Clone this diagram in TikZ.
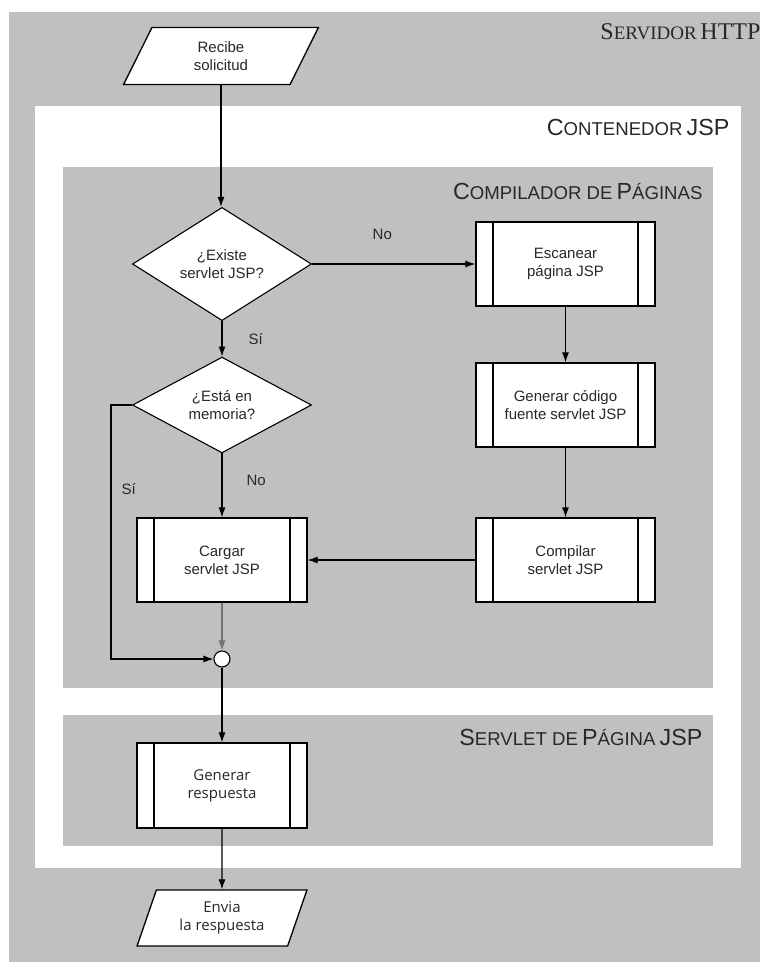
\documentclass[tikz,border=0pt]{standalone}
\usepackage{fontspec}
\setmainfont{Liberation Sans}
\newfontfamily\servidorfont{Liberation Serif}
\newfontfamily\respfont{Open Sans}
\usetikzlibrary{shapes.geometric,arrows.meta}

\definecolor{fondo}{RGB}{192,192,192}
\definecolor{tinta}{RGB}{40,40,40}

% versalitas falsas para los titulos
\newcommand{\mayor}[1]{{\fontsize{23.3}{24}\selectfont #1}}
\newcommand{\menor}[1]{{\fontsize{18.6}{19}\selectfont #1}}

\begin{document}
\begin{tikzpicture}[x=1pt,y=-1pt,line width=1.1pt,
  every node/.style={font=\fontsize{15}{18}\selectfont, align=center, text=tinta},
  proceso/.style={draw, fill=white, line width=1.3pt, minimum width=170pt, minimum height=84pt, inner sep=0pt,
    path picture={
      \draw[line width=1.3pt] ([xshift=17pt]path picture bounding box.north west) -- ([xshift=17pt]path picture bounding box.south west);
      \draw[line width=1.3pt] ([xshift=-17pt]path picture bounding box.north east) -- ([xshift=-17pt]path picture bounding box.south east);}},
  decision/.style={diamond, draw, fill=white, minimum width=179pt, minimum height=84pt, inner sep=0pt},
  datos/.style={trapezium, trapezium left angle=69, trapezium right angle=111, trapezium stretches=true,
    draw, fill=white, line width=1.3pt, minimum height=57pt, inner sep=0pt},
  union/.style={circle, draw, fill=white, minimum size=16pt, inner sep=0pt},
  etiqueta/.style={inner sep=0pt},
  titulo/.style={anchor=base east, inner sep=0pt},
  flecha/.style={-{Latex[length=10pt,width=7pt]}}]

\useasboundingbox (0,0) rectangle (760,962);

% zonas
\fill[fondo] (9,12) rectangle (760,962);
\fill[white] (35,106) rectangle (741,868);
\fill[fondo] (63,167) rectangle (713,688);
\fill[fondo] (63,715) rectangle (713,846);

\node[titulo] at (761,39) {\servidorfont{\fontsize{24}{24}\selectfont S}{\fontsize{19}{19}\selectfont ERVIDOR} {\fontsize{24}{24}\selectfont HTTP}};
\node[titulo] at (730,135) {\mayor{C}\menor{ONTENEDOR} \mayor{JSP}};
\node[titulo] at (703,199) {\mayor{C}\menor{OMPILADOR DE} \mayor{P}\menor{ÁGINAS}};
\node[titulo] at (703,745) {\mayor{S}\menor{ERVLET DE} \mayor{P}\menor{ÁGINA} \mayor{JSP}};

% pasos
\node[datos, minimum width=196pt] (recibe) at (221,56) {Recibe\\solicitud};
\node[decision] (existe) at (222,264) {¿Existe\\servlet JSP?};
\node[proceso, minimum width=179pt] (escanear) at (565.5,264) {Escanear\\página JSP};
\node[decision] (memoria) at (222,405) {¿Está en\\memoria?};
\node[proceso, minimum width=179pt] (generar) at (565.5,405) {Generar código\\fuente servlet JSP};
\node[proceso] (cargar) at (222,560) {Cargar\\servlet JSP};
\node[proceso, minimum width=179pt] (compilar) at (565.5,560) {Compilar\\servlet JSP};
\node[union] (junta) at (222,659) {};
\node[proceso, minimum height=85pt] (respuesta) at (222,785.5) {\respfont Generar\\\respfont respuesta};
\node[datos, minimum width=170pt, minimum height=56pt] (envia) at (222,918) {\respfont Envia\\\respfont la respuesta};

% conexiones
\draw[flecha] (recibe.south) -- (recibe.south |- existe.north);
\draw[flecha] (existe.east) -- node[etiqueta, pos=0.43, above=24pt]{No} (escanear.west);
\draw[flecha] (existe.south) -- node[etiqueta, pos=0.5, right=26pt]{Sí} (memoria.north);
\draw[flecha] (memoria.south) -- node[etiqueta, pos=0.42, right=24pt]{No} (cargar.north);
\draw[flecha] (memoria.west) -- ++(-21,0) |- node[etiqueta, pos=0.165, right=10pt]{Sí} (junta.west);
\draw[flecha] (escanear.south) -- (generar.north);
\draw[flecha] (generar.south) -- (compilar.north);
\draw[flecha] (compilar.west) -- (cargar.east);
\draw[flecha, black!55] (cargar.south) -- (junta.north);
\draw[flecha] (junta.south) -- (respuesta.north);
\draw[flecha] (respuesta.south) -- (envia.north);

\end{tikzpicture}
\end{document}
